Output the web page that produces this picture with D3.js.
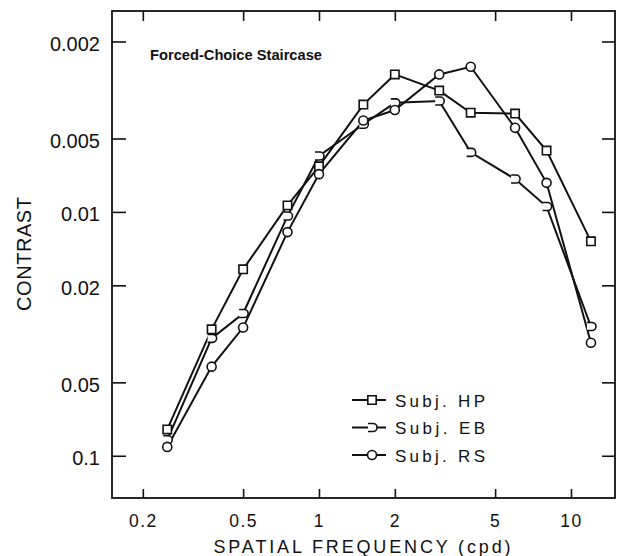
<!DOCTYPE html>
<html><head><meta charset="utf-8">
<script src="https://cdn.jsdelivr.net/npm/d3@7"></script>
<style>
html,body{margin:0;padding:0;background:#fff;}
svg{display:block;}
text{font-family:"Liberation Sans","DejaVu Sans",sans-serif;fill:#111;}
</style></head>
<body>
<script>
// ---- data ----
const freqs = [0.25, 0.375, 0.5, 0.75, 1, 1.5, 2, 3, 4, 6, 8, 12];
const hpValues = [0.078, 0.0303, 0.0172, 0.0094, 0.0065, 0.00363, 0.00273, 0.00318, 0.00392, 0.00395, 0.0056, 0.0132];
const ebValues = [0.086, 0.033, 0.0261, 0.0104, 0.0059, 0.00437, 0.00357, 0.00351, 0.0057, 0.00733, 0.0095, 0.0295];
const rsValues = [0.092, 0.0431, 0.0298, 0.0121, 0.0070, 0.00422, 0.00382, 0.00273, 0.00254, 0.00452, 0.0076, 0.0344];
const seriesNames = ["Subj.  HP", "Subj.  EB", "Subj.  RS"];
const xTickValues = [0.2, 0.5, 1, 2, 5, 10];
const xTickLabels = ["0.2", "0.5", "1", "2", "5", "10"];
const yTickValues = [0.002, 0.005, 0.01, 0.02, 0.05, 0.1];
const yTickLabels = ["0.002", "0.005", "0.01", "0.02", "0.05", "0.1"];
const xDomain = [0.1509, 14.95];
const yDomain = [0.0015, 0.149];
const chartTitle = "Forced-Choice Staircase";
const xTitle = "SPATIAL FREQUENCY (cpd)";
const yTitle = "CONTRAST";

// ---- layout ----
const W = 618, H = 556;
const L = 112, R = 615, T = 11, B = 498;

const svg = d3.select("body").append("svg").attr("width", W).attr("height", H);
const x = d3.scaleLog().domain(xDomain).range([L, R]);
const y = d3.scaleLog().domain(yDomain).range([T, B]);

// frame
svg.append("rect").attr("x", L).attr("y", T).attr("width", R - L).attr("height", B - T)
  .attr("fill", "none").attr("stroke", "#111").attr("stroke-width", 1.8);

// axes with inward ticks
const axB = d3.axisBottom(x).tickValues(xTickValues).tickFormat((d, i) => xTickLabels[i]).tickSize(-9).tickPadding(17);
const gB = svg.append("g").attr("transform", `translate(0,${B})`).call(axB);
const axT = d3.axisTop(x).tickValues(xTickValues).tickFormat("").tickSize(-10);
const gT = svg.append("g").attr("transform", `translate(0,${T})`).call(axT);
const axL = d3.axisLeft(y).tickValues(yTickValues).tickFormat((d, i) => yTickLabels[i]).tickSize(-14).tickPadding(12);
const gL = svg.append("g").attr("transform", `translate(${L},0)`).call(axL);
const axR = d3.axisRight(y).tickValues(yTickValues).tickFormat("").tickSize(-13);
const gR = svg.append("g").attr("transform", `translate(${R},0)`).call(axR);
[gB, gT, gL, gR].forEach(g => {
  g.select(".domain").remove();
  g.selectAll(".tick line").attr("stroke", "#111").attr("stroke-width", 1.6);
  g.selectAll(".tick text").attr("fill", "#111")
    .attr("font-family", "'Liberation Sans','DejaVu Sans',sans-serif");
});
gL.selectAll(".tick text").attr("font-size", 20).attr("dy", "0.45em");
gB.selectAll(".tick text").attr("font-size", 17.5).attr("letter-spacing", "1.5px").attr("dy", "0.71em");

// titles
svg.append("text").attr("x", 362).attr("y", 553).attr("text-anchor", "middle")
  .attr("font-size", 18).attr("textLength", 297).attr("lengthAdjust", "spacing").text(xTitle);
svg.append("text").attr("transform", "translate(31,254) rotate(-90)").attr("text-anchor", "middle")
  .attr("font-size", 20).attr("textLength", 114).attr("lengthAdjust", "spacing").text(yTitle);
svg.append("text").attr("x", 150).attr("y", 60).attr("font-size", 15).attr("font-weight", "bold")
  .attr("font-family", "'DejaVu Sans Condensed','DejaVu Sans',sans-serif")
  .attr("textLength", 172).attr("lengthAdjust", "spacingAndGlyphs").text(chartTitle);

// markers
const markerPath = {
  sq: d3.symbol().type(d3.symbolSquare).size(70)(),
  circ: d3.symbol().type(d3.symbolCircle).size(64)(),
  eb: "M-4,-4 L1,-4 A4,4 0 0 1 1,4 L-4,4"
};
const series = [
  {name: seriesNames[0], vals: hpValues, m: "sq"},
  {name: seriesNames[1], vals: ebValues, m: "eb"},
  {name: seriesNames[2], vals: rsValues, m: "circ"}
];
const line = d3.line().x(d => x(d[0])).y(d => y(d[1]));
series.forEach(s => {
  const pts = freqs.map((f, i) => [f, s.vals[i]]);
  svg.append("path").attr("d", line(pts)).attr("fill", "none")
    .attr("stroke", "#111").attr("stroke-width", 2);
});
series.forEach(s => {
  const pts = freqs.map((f, i) => [f, s.vals[i]]);
  svg.append("g").selectAll("path").data(pts).join("path")
    .attr("transform", d => `translate(${x(d[0])},${y(d[1])})`)
    .attr("d", markerPath[s.m]).attr("fill", "#fff").attr("stroke", "#111").attr("stroke-width", 1.6);
});

// legend
const lg = svg.append("g");
series.forEach((s, i) => {
  const ly = 400 + i * 27.5;
  lg.append("line").attr("x1", 352).attr("x2", 386).attr("y1", ly).attr("y2", ly)
    .attr("stroke", "#111").attr("stroke-width", 2);
  lg.append("path").attr("transform", `translate(372,${ly})`).attr("d", markerPath[s.m])
    .attr("fill", "#fff").attr("stroke", "#111").attr("stroke-width", 1.6);
  lg.append("text").attr("x", 395).attr("y", ly + 6.5).attr("font-size", 17)
    .attr("font-family", "'DejaVu Sans Condensed','Liberation Sans Narrow',sans-serif")
    .attr("textLength", 90).attr("lengthAdjust", "spacing").text(s.name);
});
</script>
</body></html>
